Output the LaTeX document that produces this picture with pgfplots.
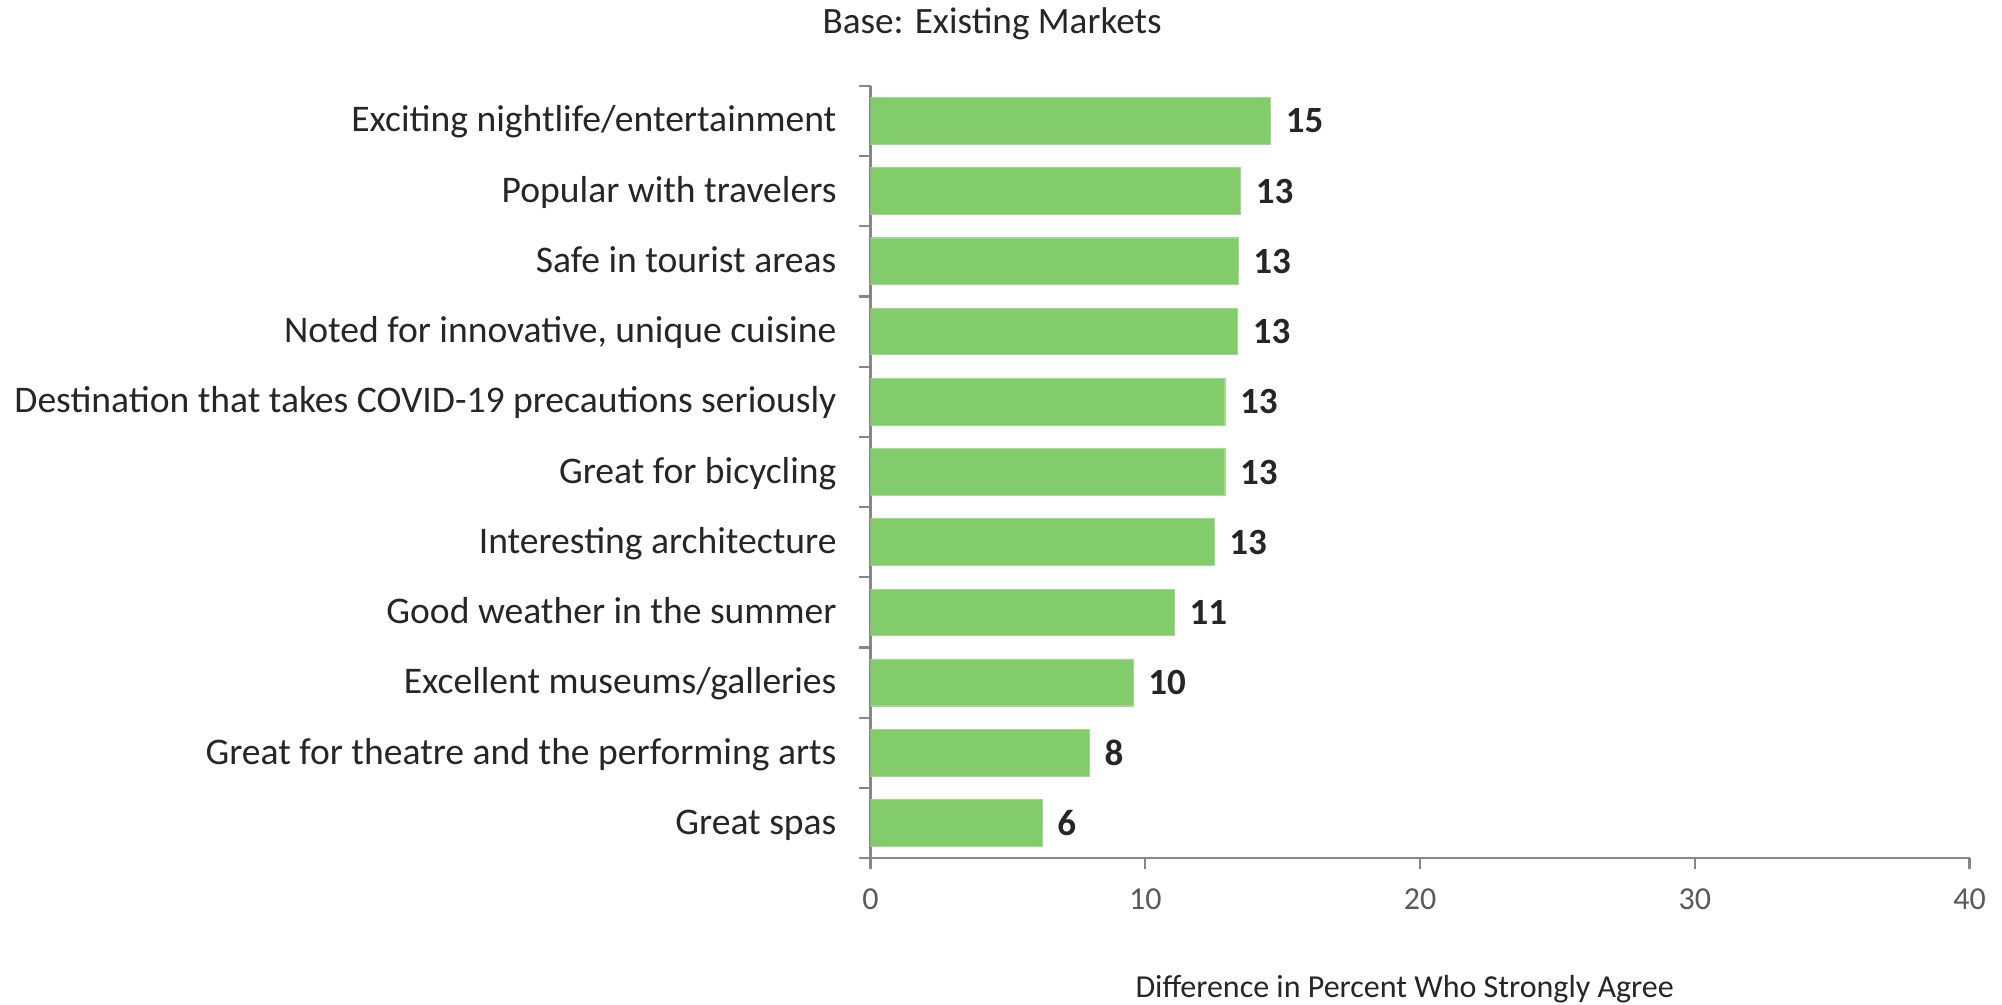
\documentclass[border=0pt]{standalone}
\usepackage{pgfplots}
\pgfplotsset{compat=1.18}
\usepackage{pgfplotstable}
\usepackage{fontspec}
\setmainfont{Carlito}
\definecolor{barGreen}{HTML}{82CC6C}
\definecolor{axGray}{HTML}{868686}
\definecolor{txt}{HTML}{262626}
\definecolor{tick}{HTML}{595959}
\pgfplotstableread[col sep=comma]{
y,val,lab
0,14.56,15
1,13.47,13
2,13.38,13
3,13.36,13
4,12.90,13
5,12.90,13
6,12.51,13
7,11.06,11
8,9.56,10
9,7.97,8
10,6.25,6
}\datatable
\begin{document}
\begin{tikzpicture}
\useasboundingbox (0,0) rectangle (1001pt,502.5pt);
\begin{axis}[
  at={(435.25pt,73.35pt)}, anchor=south west,
  scale only axis, width=549.5pt, height=386.3pt,
  xbar, bar width=23.35pt,
  xmin=0, xmax=40, ymin=-0.5, ymax=10.5, y dir=reverse,
  axis x line*=bottom, axis y line*=left,
  axis line style={axGray, line width=1.1pt, -},
  xtick={0,10,20,30,40},
  tick style={axGray, line width=1.1pt},
  major tick length=5.5pt,
  tick align=outside,
  ytick={-0.5,0.5,1.5,2.5,3.5,4.5,5.5,6.5,7.5,8.5,9.5,10.5},
  yticklabels={Exciting nightlife/entertainment, Popular with travelers, Safe in tourist areas, {Noted for innovative, unique cuisine}, Destination that takes COVID-19 precautions seriously, Great for bicycling, Interesting architecture, Good weather in the summer, Excellent museums/galleries, Great for theatre and the performing arts, Great spas, {}},
  yticklabel style={font=\fontsize{18.8}{20}\selectfont, text=txt, xshift=-8pt, yshift=-20.7pt, text height=0.72em, text depth=0.24em},
  xticklabel style={font=\fontsize{16}{18}\selectfont, text=tick, yshift=-6pt},
  /pgf/number format/assume math mode=true,
  xlabel={Difference in Percent Who Strongly Agree},
  xlabel style={font=\fontsize{16}{18}\selectfont, text=txt, at={(axis description cs:0.486,-0.169)}, anchor=center},
  title={Base: Existing Markets},
  title style={font=\fontsize{18.6}{20}\selectfont, text=txt, at={(axis description cs:0.1106,1.064)}, anchor=center},
  nodes near coords,
  point meta=explicit symbolic,
  every node near coord/.append style={font=\bfseries\fontsize{18.5}{20}\selectfont, text=txt, anchor=west, xshift=4pt},
]
\addplot[fill=barGreen, draw=barGreen!75!white, line width=0.6pt] table[x=val, y=y, meta=lab] {\datatable};
\end{axis}
\end{tikzpicture}
\end{document}
